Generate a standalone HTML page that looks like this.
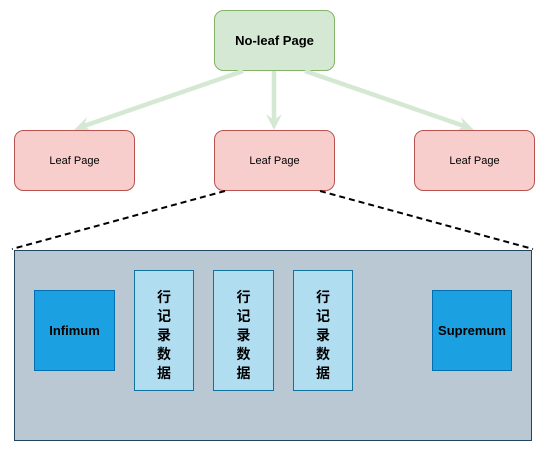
<!DOCTYPE html>
<html><head><meta charset="utf-8"><style>
body{margin:0;background:#fff;}
svg text{font-family:"Liberation Sans","Noto Sans CJK SC",sans-serif;}
</style></head><body>
<svg width="545" height="451" viewBox="0 0 545 451" xmlns="http://www.w3.org/2000/svg">
<rect x="214.5" y="10.5" width="120" height="60" rx="9" fill="#d5e8d4" stroke="#82b366"/>
<text x="274.5" y="45" font-size="13" font-weight="bold" text-anchor="middle" fill="#000">No-leaf Page</text>
<g stroke="#d5e8d4" stroke-width="4.5" fill="none">
<line x1="243" y1="71" x2="84" y2="126"/>
<line x1="274" y1="71" x2="274" y2="120"/>
<line x1="305" y1="71" x2="464" y2="126"/>
</g>
<g fill="#d5e8d4">
<polygon points="74,130 87,117 84,126 93,132"/>
<polygon points="274,130 266,114 274,120 282,114"/>
<polygon points="474,130 455,132 464,126 461,117"/>
</g>
<g fill="#f8cecc" stroke="#b85450">
<rect x="14.5" y="130.5" width="120" height="60" rx="9"/>
<rect x="214.5" y="130.5" width="120" height="60" rx="9"/>
<rect x="414.5" y="130.5" width="120" height="60" rx="9"/>
</g>
<g font-size="11" text-anchor="middle" fill="#000">
<text x="74.5" y="164">Leaf Page</text>
<text x="274.5" y="164">Leaf Page</text>
<text x="474.5" y="164">Leaf Page</text>
</g>
<g stroke="#000" stroke-width="2" stroke-dasharray="6,4">
<line x1="225" y1="191" x2="12" y2="249"/>
<line x1="320" y1="191" x2="533" y2="249"/>
</g>
<rect x="14.5" y="250.5" width="517" height="190" fill="#bac8d3" stroke="#23445d"/>
<rect x="34.5" y="290.5" width="80" height="80" fill="#1ba1e2" stroke="#006eaf"/>
<rect x="432.5" y="290.5" width="79" height="80" fill="#1ba1e2" stroke="#006eaf"/>
<g font-size="13" font-weight="bold" text-anchor="middle" fill="#000">
<text x="74.5" y="335">Infimum</text>
<text x="472" y="335">Supremum</text>
</g>
<g fill="#b1ddf0" stroke="#10739e">
<rect x="134.5" y="270.5" width="59" height="120"/>
<rect x="213.5" y="270.5" width="60" height="120"/>
<rect x="293.5" y="270.5" width="59" height="120"/>
</g>
<g font-size="14" font-weight="bold" text-anchor="middle" fill="#000">
<text x="164" y="302">行</text><text x="164" y="321">记</text><text x="164" y="340">录</text><text x="164" y="359">数</text><text x="164" y="378">据</text>
<text x="243.5" y="302">行</text><text x="243.5" y="321">记</text><text x="243.5" y="340">录</text><text x="243.5" y="359">数</text><text x="243.5" y="378">据</text>
<text x="323" y="302">行</text><text x="323" y="321">记</text><text x="323" y="340">录</text><text x="323" y="359">数</text><text x="323" y="378">据</text>
</g>
</svg>
</body></html>
